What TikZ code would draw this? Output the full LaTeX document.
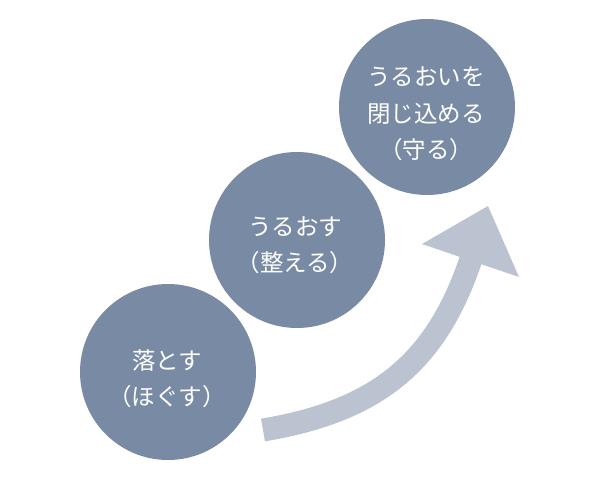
\documentclass[tikz,border=0pt]{standalone}
\usepackage{fontspec}
\setmainfont{Noto Sans CJK JP}
\definecolor{circ}{RGB}{121,139,164}
\definecolor{arr}{RGB}{187,195,209}
\begin{document}
\begin{tikzpicture}[x=1pt,y=-1pt,
  stage/.style={circle, fill=circ, minimum size=176pt, inner sep=0pt},
  lbl/.style={text=white, align=center, inner sep=0pt, font=\fontsize{23.5}{36.5}\selectfont}]
\useasboundingbox (0,0) rectangle (600,480);
\node[stage] (c1) at (168,372) {};
\node[stage] (c2) at (297,240) {};
\node[stage] (c3) at (427,107) {};
\node[lbl] (t1) at (167,379) {落とす\\（ほぐす）};
\node[lbl] (t2) at (295,245) {うるおす\\（整える）};
\node[lbl] (t3) at (426,114) {うるおいを\\閉じ込める\\（守る）};
\coordinate (a0) at (263,430);
\coordinate (a1) at (471.6,257.3);
\draw[arr, line width=23pt] (a0) .. controls (379.8,410.5) and (437.3,360.4) .. (a1);
\fill[arr] (422,244) -- (488,206) -- (519,277) -- cycle;
\end{tikzpicture}
\end{document}
